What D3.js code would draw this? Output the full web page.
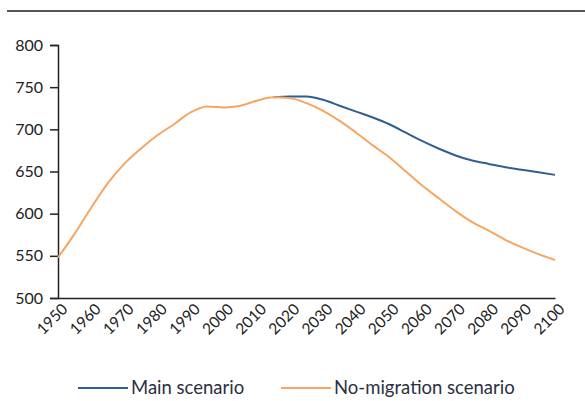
<!DOCTYPE html>
<html>
<head>
<meta charset="utf-8">
<script src="https://cdn.jsdelivr.net/npm/d3@7"></script>
<style>
  body { margin: 0; background: #fff; }
  svg { display: block; font-family: Lato, "Open Sans", sans-serif; }
</style>
</head>
<body>
<svg id="chart" width="585" height="401"></svg>
<script>
// data (population, 5-year steps)
const years = d3.range(1950, 2101, 5);
const mainScenario = [548, 576, 607, 636, 659, 677, 693, 706, 720, 727, 726, 728, 734, 738, 739,
  739, 735, 728, 721, 714, 706, 696, 686, 677, 669, 663, 659, 655, 652, 649, 646];
const noMigration  = [548, 576, 607, 636, 659, 677, 693, 706, 720, 727, 726, 728, 734, 738, 737,
  731, 722, 710, 696, 681, 667, 650, 633, 618, 603, 590, 580, 569, 560, 552, 545];
const yTicks = [500, 550, 600, 650, 700, 750, 800];
const xTicks = d3.range(1950, 2101, 10);
const seriesNames = ["Main scenario", "No-migration scenario"];
const colors = ["#2f5f8f", "#f7a660"];

const svg = d3.select("#chart");

// top rule
svg.append("line")
  .attr("x1", 7).attr("x2", 585)
  .attr("y1", 11).attr("y2", 11)
  .attr("stroke", "#555").attr("stroke-width", 2);

const margin = { left: 58, right: 30, top: 45, bottom: 103 };
const W = 585, H = 401;

const x = d3.scaleLinear().domain([1950, 2100]).range([margin.left, W - margin.right]);
const y = d3.scaleLinear().domain([500, 800]).range([H - margin.bottom, margin.top]);

// y axis
const yAxis = svg.append("g")
  .attr("transform", `translate(${margin.left},0)`)
  .call(d3.axisLeft(y).tickValues(yTicks).tickSize(8).tickPadding(7));
yAxis.select(".domain").attr("stroke", "#222").attr("stroke-width", 1.5);
yAxis.selectAll(".tick line").attr("stroke", "#222").attr("stroke-width", 1.5);
yAxis.selectAll(".tick text")
  .style("font-size", "16px").style("font-family", "Lato, sans-serif").attr("fill", "#222");

// x axis
const xAxis = svg.append("g")
  .attr("transform", `translate(0,${y(500)})`)
  .call(d3.axisBottom(x).tickValues(xTicks).tickSize(0).tickFormat(d3.format("d")));
xAxis.select(".domain").attr("stroke", "#222").attr("stroke-width", 1.5);
xAxis.selectAll(".tick text")
  .style("font-size", "15.5px").style("font-family", "Lato, sans-serif").attr("fill", "#222")
  .attr("text-anchor", "end")
  .attr("dy", 0)
  .attr("transform", "translate(8,10) rotate(-45)");

// lines
const start = 13; // main scenario splits off around 2015
svg.append("path")
  .datum(mainScenario.slice(start))
  .attr("d", d3.line()
    .x((d, i) => x(years[i + start]))
    .y(d => y(d))
    .curve(d3.curveMonotoneX))
  .attr("fill", "none")
  .attr("stroke", colors[0])
  .attr("stroke-width", 2);

svg.append("path")
  .datum(noMigration)
  .attr("d", d3.line()
    .x((d, i) => x(years[i]))
    .y(d => y(d))
    .curve(d3.curveMonotoneX))
  .attr("fill", "none")
  .attr("stroke", colors[1])
  .attr("stroke-width", 2);

// legend
const legend = svg.append("g").attr("transform", "translate(0,388)");
const legendX = [78, 281];
seriesNames.forEach((name, i) => {
  legend.append("line")
    .attr("x1", legendX[i]).attr("x2", legendX[i] + 50)
    .attr("y1", 0).attr("y2", 0)
    .attr("stroke", colors[i]).attr("stroke-width", 2);
  legend.append("text")
    .attr("x", legendX[i] + 53).attr("y", 6)
    .style("font-size", "18.5px")
    .attr("fill", "#2b3040")
    .text(name);
});
</script>
</body>
</html>
